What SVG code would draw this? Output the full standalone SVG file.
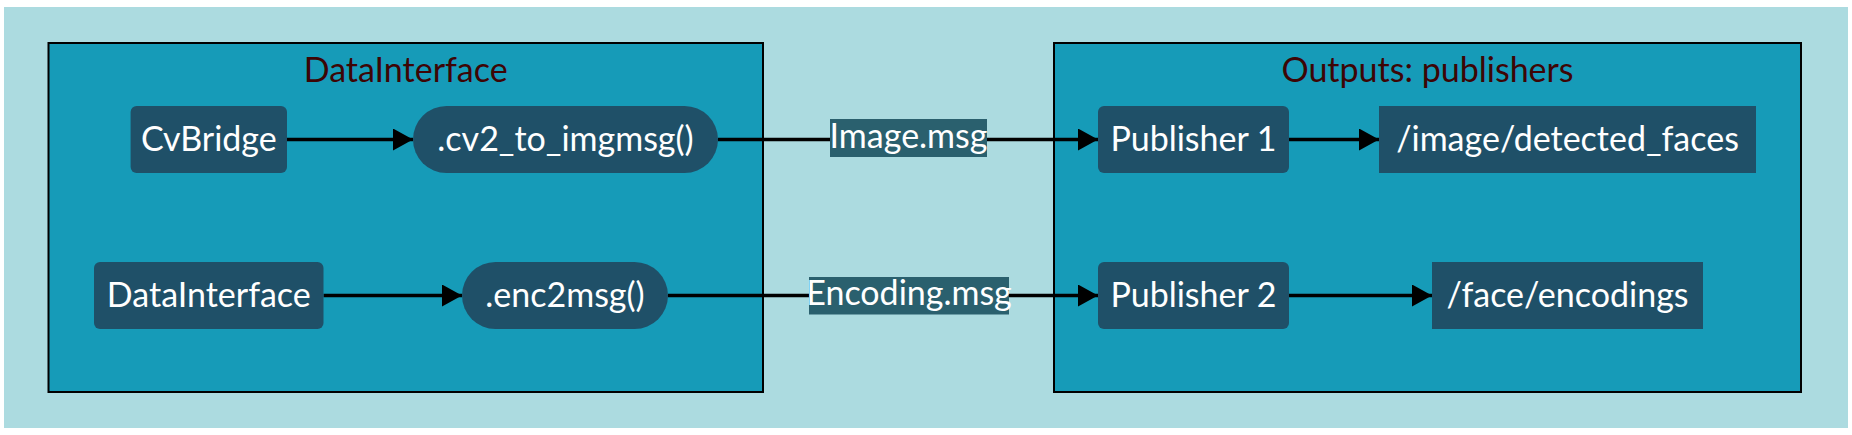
<svg xmlns="http://www.w3.org/2000/svg" width="1852" height="435" viewBox="0 0 1852 435">
  <style>
    .bg { fill: #acdbe0; }
    .cluster { fill: #169bb8; stroke: #000000; stroke-width: 2; }
    .ctitle { fill: #3d0505; font-family: Lato, "Open Sans", sans-serif; font-size: 34px; text-anchor: middle; }
    .node { fill: #1f5068; }
    .ntext { fill: #ffffff; font-family: Lato, "Open Sans", sans-serif; font-size: 34px; text-anchor: middle; }
    .edge { stroke: #000000; stroke-width: 3.3; fill: none; marker-end: url(#arrow); }
    .lbg { fill: #2a606e; }
    .ltext { fill: #ffffff; font-family: Lato, "Open Sans", sans-serif; font-size: 34px; text-anchor: middle; }
  </style>
  <defs>
    <marker id="arrow" markerUnits="userSpaceOnUse" markerWidth="20" markerHeight="22" refX="20" refY="11" orient="auto">
      <path d="M0,0 L20,11 L0,22 z" fill="#000000"/>
    </marker>
  </defs>
  <rect class="bg" x="4" y="7" width="1844" height="421"/>

  <g id="cluster-datainterface">
    <rect class="cluster" x="48.5" y="43" width="714.5" height="349"/>
    <text class="ctitle" x="405.7" y="82">DataInterface</text>
  </g>
  <g id="cluster-outputs">
    <rect class="cluster" x="1054" y="43" width="747" height="349"/>
    <text class="ctitle" x="1427.5" y="82">Outputs: publishers</text>
  </g>

  <g id="connectors">
    <path class="edge" d="M287,139.5 L413,139.5"/>
    <path class="edge" d="M718,139.5 L1098,139.5"/>
    <path class="edge" d="M323.5,295.5 L462,295.5"/>
    <path class="edge" d="M668,295.5 L1098,295.5"/>
    <path class="edge" d="M1289,139.5 L1379,139.5"/>
    <path class="edge" d="M1289,295.5 L1432,295.5"/>
  </g>

  <g id="label-image-msg">
    <rect class="lbg" x="830" y="119" width="157" height="38"/>
    <text class="ltext" x="908.5" y="148">Image.msg</text>
  </g>
  <g id="label-encoding-msg">
    <rect class="lbg" x="809" y="277" width="200" height="37.5"/>
    <text class="ltext" x="909" y="304.5">Encoding.msg</text>
  </g>

  <g id="node-cvbridge">
    <rect class="node" x="130.6" y="106" width="156.4" height="67" rx="6"/>
    <text class="ntext" x="208.8" y="151">CvBridge</text>
  </g>
  <g id="node-cv2-to-imgmsg">
    <rect class="node" x="413" y="106" width="305" height="67" rx="33.5"/>
    <text class="ntext" x="565.5" y="151">.cv2_to_imgmsg()</text>
  </g>
  <g id="node-datainterface">
    <rect class="node" x="94" y="262" width="229.5" height="67" rx="6"/>
    <text class="ntext" x="208.8" y="307">DataInterface</text>
  </g>
  <g id="node-enc2msg">
    <rect class="node" x="462" y="262" width="206" height="67" rx="33.5"/>
    <text class="ntext" x="565" y="307">.enc2msg()</text>
  </g>
  <g id="node-publisher1">
    <rect class="node" x="1098" y="106" width="191" height="67" rx="6"/>
    <text class="ntext" x="1193.5" y="151">Publisher 1</text>
  </g>
  <g id="node-detected-faces">
    <rect class="node" x="1379" y="106" width="377" height="67"/>
    <text class="ntext" x="1567.5" y="151">/image/detected_faces</text>
  </g>
  <g id="node-publisher2">
    <rect class="node" x="1098" y="262" width="191" height="67" rx="6"/>
    <text class="ntext" x="1193.5" y="307">Publisher 2</text>
  </g>
  <g id="node-face-encodings">
    <rect class="node" x="1432" y="262" width="271" height="67"/>
    <text class="ntext" x="1567.5" y="307">/face/encodings</text>
  </g>
</svg>
